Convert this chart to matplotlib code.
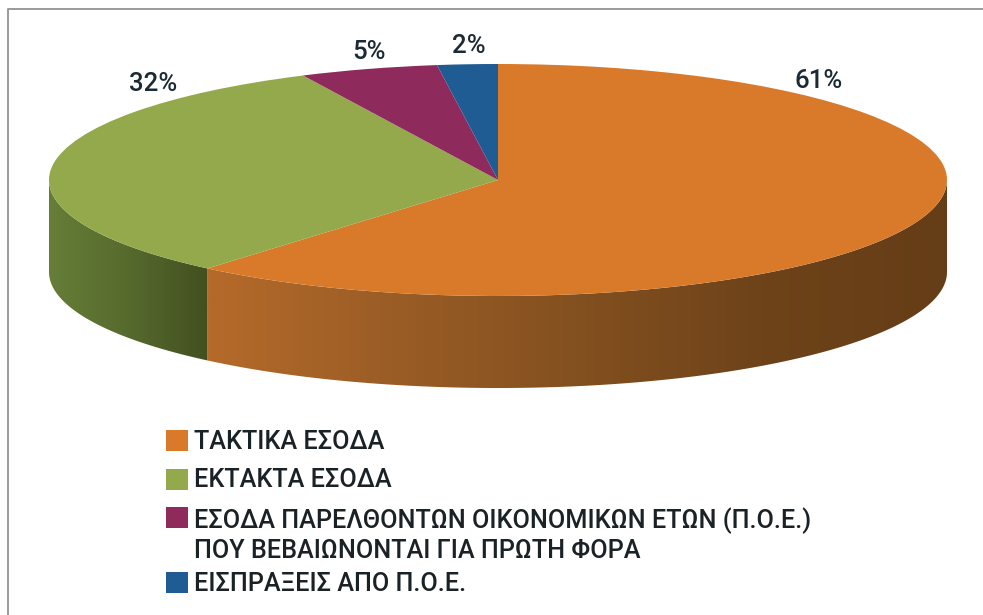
import numpy as np
import matplotlib
matplotlib.use("Agg")
import matplotlib.pyplot as plt
from matplotlib.colors import LinearSegmentedColormap
from matplotlib.lines import Line2D
from matplotlib.patches import Polygon, Rectangle

W, H = 983, 615

categories = ["ΤΑΚΤΙΚΑ ΕΣΟΔΑ", "ΕΚΤΑΚΤΑ ΕΣΟΔΑ",
              "ΕΣΟΔΑ ΠΑΡΕΛΘΟΝΤΩΝ ΟΙΚΟΝΟΜΙΚΩΝ ΕΤΩΝ (Π.Ο.Ε.)\nΠΟΥ ΒΕΒΑΙΩΝΟΝΤΑΙ ΓΙΑ ΠΡΩΤΗ ΦΟΡΑ",
              "ΕΙΣΠΡΑΞΕΙΣ ΑΠΟ Π.Ο.Ε."]
# slice sizes, the printed labels are rounded
values = [61.2, 31.65, 4.98, 2.17]
pct_labels = ["61%", "32%", "5%", "2%"]

colors = ["#d97a2a", "#93a94b", "#8e2a5c", "#1f5c94"]
wall_colors = [["#b56a2a", "#9a5d26", "#83501f", "#6e431a", "#653d16"],
               ["#667e38", "#566a2d", "#434f20"]]
label_pos = [(819, 81), (153, 84), (369, 52), (469, 46)]
square_top = [430, 469, 507, 572]
text_mid = [442, 480, 535, 584]

plt.rcParams['font.family'] = ['Roboto', 'DejaVu Sans']

fig = plt.figure(figsize=(W / 100, H / 100), dpi=100, facecolor="white")
fig.add_artist(Line2D([8 / W, 8 / W, 1], [0, 1 - 9 / H, 1 - 9 / H], color="#9a9a9a", linewidth=1.4))

# ellipse: centre 498,180 radii 449,116, wall 92 px deep
depth = 92 / 116
top = 64
bottom = 388
ax = fig.add_axes([49 / W, 1 - bottom / H, 898 / W, (bottom - top) / H])
wedges, _ = ax.pie(values, colors=colors, startangle=90, counterclock=False, radius=1,
                   wedgeprops={"linewidth": 0})

# side wall, a gradient image clipped to the outline of each visible slice
edges = 90 - 360 * np.cumsum([0] + values) / sum(values)
for i in range(2):
    t0 = max(edges[i + 1], -180)
    t1 = min(edges[i], 0)
    t = np.radians(np.linspace(t0, t1, 200))
    x = np.cos(t)
    y = np.sin(t)
    outline = np.column_stack([np.r_[x, x[::-1]], np.r_[y, y[::-1] - depth]])
    cmap = LinearSegmentedColormap.from_list("wall", wall_colors[i])
    im = ax.imshow(np.linspace(0, 1, 400).reshape(1, -1), cmap=cmap, aspect="auto",
                   extent=(x[0], x[-1], -1 - depth, 0), interpolation="bilinear")
    im.set_clip_path(Polygon(outline, transform=ax.transData))

ax.set_aspect("auto")
ax.set_xlim(-1, 1)
ax.set_ylim(-1 - depth, 1)
ax.axis("off")

for lab, (px, py) in zip(pct_labels, label_pos):
    fig.text(px / W, 1 - py / H, lab, fontsize=18.5, fontweight="medium", color="#1c2a33",
             ha="center", va="center")

for col, name, sq, mid in zip(colors, categories, square_top, text_mid):
    fig.add_artist(Rectangle((166 / W, 1 - (sq + 21) / H), 22 / W, 21 / H,
                             transform=fig.transFigure, facecolor=col, edgecolor="none"))
    fig.text(194 / W, 1 - mid / H, name, fontsize=18.2, fontweight="medium", color="#1a2226",
             ha="left", va="center", linespacing=1.28)

fig.savefig("out.png", dpi=100)
